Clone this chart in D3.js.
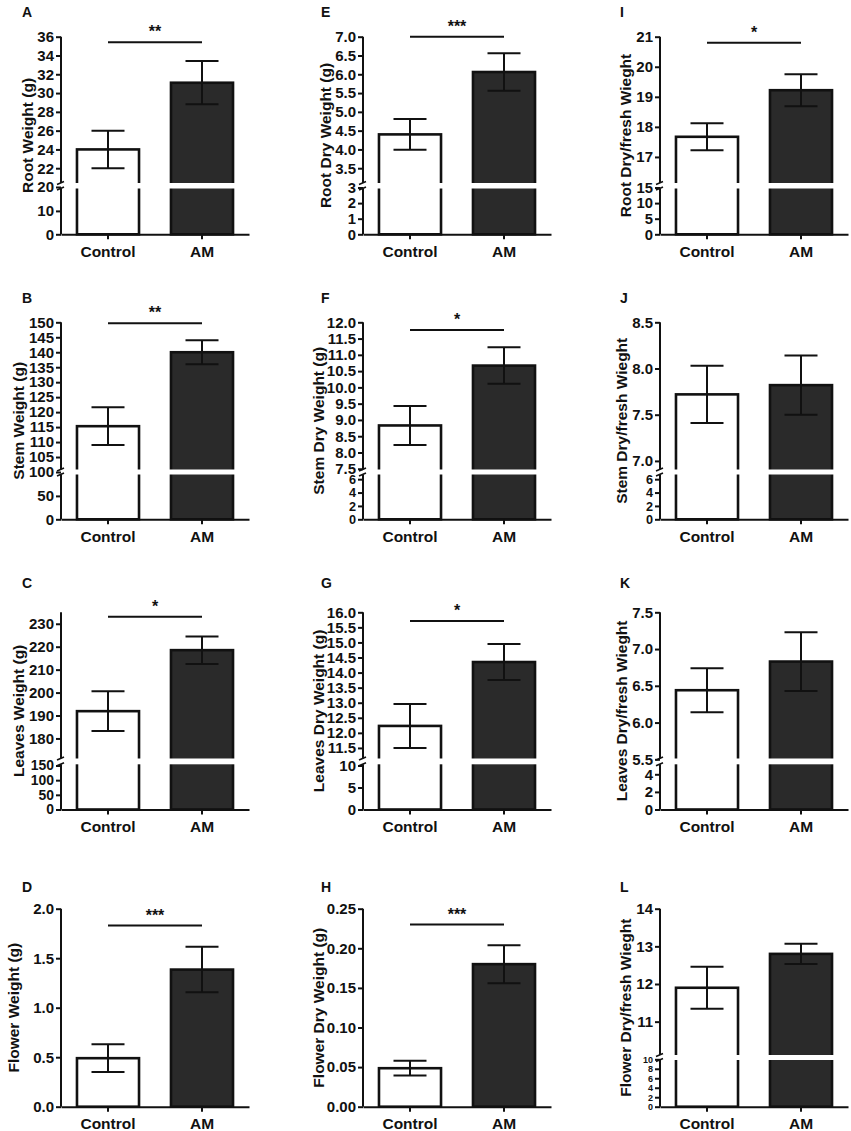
<!DOCTYPE html>
<html>
<head>
<meta charset="utf-8">
<script src="https://cdn.jsdelivr.net/npm/d3@7"></script>
<style>
  body { margin: 0; background: #fff; }
  svg text { font-family: "Liberation Sans", Arial, sans-serif; font-weight: bold; fill: #111; }
</style>
</head>
<body>
<svg id="chart"></svg>
<script>
var width = 851;
var height = 1131;

// ---- data ----
var groups = ["Control", "AM"];
var panelLetters = ["A", "B", "C", "D", "E", "F", "G", "H", "I", "J", "K", "L"];
var yTitles = [
  "Root Weight (g)", "Stem Weight (g)", "Leaves Weight (g)", "Flower Weight (g)",
  "Root Dry Weight (g)", "Stem Dry Weight (g)", "Leaves Dry Weight (g)", "Flower Dry Weight (g)",
  "Root Dry/fresh Wieght", "Stem Dry/fresh Wieght", "Leaves Dry/fresh Wieght", "Flower Dry/fresh Wieght"
];
var means = [
  [24.0, 31.1], [115.3, 140.0], [191.9, 218.5], [0.49, 1.385],
  [4.40, 6.06], [8.83, 10.67], [12.23, 14.35], [0.0486, 0.180],
  [17.67, 19.22], [7.72, 7.82], [6.44, 6.83], [11.9, 12.8]
];
var sems = [
  [2.0, 2.3], [6.3, 4.0], [8.7, 6.0], [0.14, 0.23],
  [0.41, 0.50], [0.60, 0.56], [0.73, 0.60], [0.0093, 0.024],
  [0.45, 0.53], [0.31, 0.32], [0.30, 0.40], [0.56, 0.27]
];
var stars = ["**", "**", "*", "***", "***", "*", "*", "***", "*", "", "", ""];
var sigLevels = [35.4, 149.7, 233.1, 1.83, 7.0, 11.76, 15.71, 0.230, 20.8, null, null, null];

// axis segments: upper part and (optional) lower part below the break
var upperDomains = [
  [20, 36], [100, 150], [169.3, 235], [0, 2],
  [3, 7], [7.4, 12], [11, 16], [0, 0.25],
  [16, 21], [6.88, 8.5], [5.45, 7.5], [10, 14]
];
var lowerDomains = [
  [0, 20], [0, 100], [0, 150], null,
  [0, 3], [0, 7], [0, 10], null,
  [0, 15], [0, 7], [0, 5], [0, 10]
];
var upperTicks = [
  [20, 22, 24, 26, 28, 30, 32, 34, 36],
  [100, 105, 110, 115, 120, 125, 130, 135, 140, 145, 150],
  [180, 190, 200, 210, 220, 230],
  [0, 0.5, 1.0, 1.5, 2.0],
  [3.5, 4.0, 4.5, 5.0, 5.5, 6.0, 6.5, 7.0],
  [7.5, 8.0, 8.5, 9.0, 9.5, 10.0, 10.5, 11.0, 11.5, 12.0],
  [11.5, 12.0, 12.5, 13.0, 13.5, 14.0, 14.5, 15.0, 15.5, 16.0],
  [0, 0.05, 0.10, 0.15, 0.20, 0.25],
  [17, 18, 19, 20, 21],
  [7.0, 7.5, 8.0, 8.5],
  [5.5, 6.0, 6.5, 7.0, 7.5],
  [11, 12, 13, 14]
];
var lowerTicks = [
  [0, 10], [0, 50], [0, 50, 100, 150], null,
  [0, 1, 2, 3], [0, 2, 4, 6], [0, 5, 10], null,
  [0, 5, 10, 15], [0, 2, 4, 6], [0, 2, 4], [0, 2, 4, 6, 8, 10]
];
var tickFormats = ["d", "d", "d", ".1f", ".1f", ".1f", ".1f", ".2f", "d", ".1f", ".1f", "d"];

// ---- layout ----
var colX = [61, 363, 660];
var letterX = [22, 321, 620];
var rows = [
  { top: 36.7,  base: 234.3,  ub: 187,    lt: 187.5,  gap: [183, 188.5],    letterY: 16.7 },
  { top: 322.3, base: 519.3,  ub: 472,    lt: 472.5,  gap: [469.5, 474.5],  letterY: 303.3 },
  { top: 612.3, base: 809.5,  ub: 763,    lt: 765.5,  gap: [758.5, 764.3],  letterY: 588.3 },
  { top: 908.7, base: 1106.7, ub: 1059.3, lt: 1059.3, gap: [1055, 1060],    letterY: 891.7 }
];
var titleOffsets = [-33.5, -42, -42, -47.5, -37, -44.5, -44.5, -44.5, -34, -38.3, -38.3, -34];
var plotWidth = 188;

var svg = d3.select("#chart")
  .attr("width", width)
  .attr("height", height);

svg.append("rect")
  .attr("width", width)
  .attr("height", height)
  .attr("fill", "#fff");

panelLetters.forEach(function (letter, i) {
  var c = Math.floor(i / 4);
  var r = i % 4;
  var row = rows[r];
  var x0 = colX[c];
  var broken = lowerDomains[i] !== null;

  var x = d3.scaleBand()
    .domain(groups)
    .range([x0, x0 + plotWidth])
    .paddingInner(0.34)
    .paddingOuter(0.17);

  var yUp = d3.scaleLinear()
    .domain(upperDomains[i])
    .range([broken ? row.ub : row.base, row.top]);

  var yLow = broken
    ? d3.scaleLinear().domain(lowerDomains[i]).range([row.base, row.lt])
    : null;

  var g = svg.append("g");

  var rowsData = groups.map(function (k, j) {
    return { group: k, mean: means[i][j], sem: sems[i][j] };
  });

  // bars
  g.selectAll("rect.bar")
    .data(rowsData)
    .enter()
    .append("rect")
      .attr("class", "bar")
      .attr("x", d => x(d.group))
      .attr("y", d => yUp(d.mean))
      .attr("width", x.bandwidth())
      .attr("height", d => row.base - yUp(d.mean))
      .attr("fill", (d, j) => j === 0 ? "#fff" : "#2a2a2a")
      .attr("stroke", "#111")
      .attr("stroke-width", 2.6);

  // error bars
  var cap = 16.5;
  var eb = g.selectAll("g.err")
    .data(rowsData)
    .enter()
    .append("g")
      .attr("class", "err")
      .attr("stroke", "#111")
      .attr("stroke-width", 2);
  eb.append("line")
    .attr("x1", d => x(d.group) + x.bandwidth() / 2)
    .attr("x2", d => x(d.group) + x.bandwidth() / 2)
    .attr("y1", d => yUp(d.mean - d.sem))
    .attr("y2", d => yUp(d.mean + d.sem));
  [-1, 1].forEach(function (s) {
    eb.append("line")
      .attr("x1", d => x(d.group) + x.bandwidth() / 2 - cap)
      .attr("x2", d => x(d.group) + x.bandwidth() / 2 + cap)
      .attr("y1", d => yUp(d.mean + s * d.sem))
      .attr("y2", d => yUp(d.mean + s * d.sem));
  });

  // axis break gap
  if (broken) {
    g.append("rect")
      .attr("x", x0 + 1.5)
      .attr("y", row.gap[0])
      .attr("width", plotWidth)
      .attr("height", row.gap[1] - row.gap[0])
      .attr("fill", "#fff");
  }

  // y axis (upper segment)
  var axUp = g.append("g")
    .attr("transform", "translate(" + x0 + ",0)")
    .call(d3.axisLeft(yUp)
      .tickValues(upperTicks[i])
      .tickFormat(d3.format(tickFormats[i]))
      .tickSize(5)
      .tickPadding(2)
      .tickSizeOuter(0));
  styleAxis(axUp, 15);
  g.append("line")
    .attr("x1", x0).attr("x2", x0)
    .attr("y1", row.top)
    .attr("y2", broken ? row.gap[0] : row.base)
    .attr("stroke", "#111")
    .attr("stroke-width", 2);

  if (broken) {
    // crowded lower scales get smaller digits so they stay readable
    var lt = lowerTicks[i];
    var spacing = Math.abs(yLow(lt[1]) - yLow(lt[0]));
    var lowSize = Math.min(15, spacing * 0.95);
    var axLow = g.append("g")
      .attr("transform", "translate(" + x0 + ",0)")
      .call(d3.axisLeft(yLow)
        .tickValues(lt)
        .tickFormat(d3.format("d"))
        .tickSize(5)
        .tickPadding(2)
        .tickSizeOuter(0));
    styleAxis(axLow, lowSize);
    g.append("line")
      .attr("x1", x0).attr("x2", x0)
      .attr("y1", row.gap[1])
      .attr("y2", row.base)
      .attr("stroke", "#111")
      .attr("stroke-width", 2);

    // break marks
    row.gap.forEach(function (gy) {
      g.append("line")
        .attr("x1", x0 - 4).attr("y1", gy + 1.5)
        .attr("x2", x0 + 3).attr("y2", gy - 1.5)
        .attr("stroke", "#111")
        .attr("stroke-width", 1.6);
    });
  }

  // x axis
  var axX = g.append("g")
    .attr("transform", "translate(0," + row.base + ")")
    .call(d3.axisBottom(x).tickSize(5).tickSizeOuter(0));
  axX.attr("font-family", null).attr("font-size", null);
  axX.select(".domain").attr("stroke", "#111").attr("stroke-width", 2);
  axX.selectAll(".tick line").attr("stroke", "#111").attr("stroke-width", 2);
  axX.selectAll(".tick text")
    .attr("y", 22.5)
    .attr("dy", 0)
    .attr("font-size", 15.5);

  // significance bar
  if (sigLevels[i] !== null) {
    var sy = yUp(sigLevels[i]);
    var xa = x("Control") + x.bandwidth() / 2;
    var xb = x("AM") + x.bandwidth() / 2;
    g.append("line")
      .attr("x1", xa).attr("x2", xb)
      .attr("y1", sy).attr("y2", sy)
      .attr("stroke", "#111")
      .attr("stroke-width", 2);
    g.append("text")
      .attr("x", (xa + xb) / 2)
      .attr("y", sy - 5)
      .attr("text-anchor", "middle")
      .attr("font-size", 16)
      .text(stars[i]);
  }

  // y title
  g.append("text")
    .attr("transform", "translate(" + (x0 + titleOffsets[i]) + "," + ((row.top + row.base) / 2) + ") rotate(-90)")
    .attr("text-anchor", "middle")
    .attr("dy", "0.35em")
    .attr("font-size", 15.5)
    .text(yTitles[i]);

  // panel letter
  g.append("text")
    .attr("x", letterX[c])
    .attr("y", row.letterY)
    .attr("font-size", 14)
    .text(letter);
});

function styleAxis(ax, size) {
  ax.attr("font-family", null).attr("font-size", null);
  ax.select(".domain").remove();
  ax.selectAll(".tick line").attr("stroke", "#111").attr("stroke-width", 2);
  ax.selectAll(".tick text").attr("font-size", size);
}
</script>
</body>
</html>
